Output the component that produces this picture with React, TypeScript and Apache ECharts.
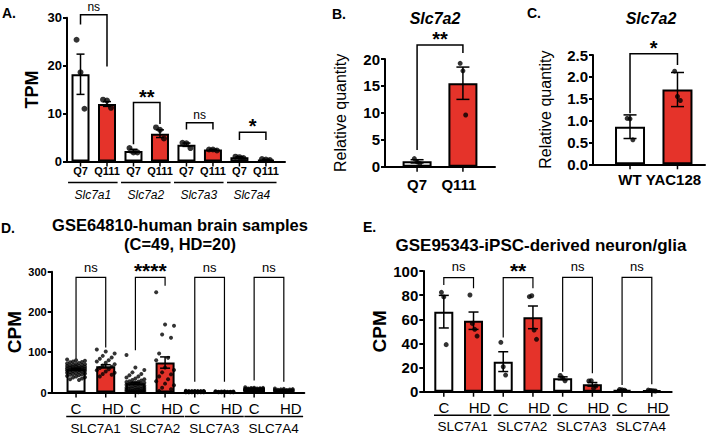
import React, { useEffect, useRef } from 'react';
import * as echarts from 'echarts';

const FONT = '"Liberation Sans", Arial, Helvetica, sans-serif';
const RED = '#e5332a';

// ---------- Panel A (TPM) ----------
const aLabels = ['Q7', 'Q111', 'Q7', 'Q111', 'Q7', 'Q111', 'Q7', 'Q111'];
const aGenes = ['Slc7a1', 'Slc7a2', 'Slc7a3', 'Slc7a4'];
const aMeans = [18.2, 12.0, 2.2, 5.8, 3.5, 2.5, 0.9, 0.4];
const aSems = [4.2, 0.5, 0.35, 0.8, 0.35, 0.06, 0.1, 0.06];
const aPoints = [
  [25.4, 18.6, 11.0],
  [12.9, 12.7, 11.2],
  [2.8, 1.9, 1.9],
  [7.1, 6.6, 4.8],
  [3.9, 3.8, 2.8],
  [2.5, 2.5, 2.3],
  [1.0, 0.9, 0.7],
  [0.5, 0.4, 0.3],
];
// [left bar, right bar, top, left leg end, right leg end]
const aBrackets = [
  [0, 1, 30.6, 28.6, 19.8],
  [2, 3, 12.3, 3.6, 7.8],
  [4, 5, 8.1, 6.7, 6.7],
  [6, 7, 6.1, 4.5, 4.5],
];
const aSig = ['ns', '**', 'ns', '*'];

// ---------- Panel B (Slc7a2, Q7 vs Q111) ----------
const bLabels = ['Q7', 'Q111'];
const bMeans = [1.0, 15.5];
const bSems = [0.3, 3.0];
const bPoints = [
  [1.5, 0.9, 0.6],
  [19.2, 17.8, 9.6],
];
const bBrackets = [[0, 1, 22.6, 3.1, 21.1]];
const bSig = ['**'];

// ---------- Panel C (Slc7a2, WT vs YAC128) ----------
const cLabels = ['WT', 'YAC128'];
const cMeans = [0.86, 1.71];
const cSems = [0.27, 0.39];
const cPoints = [
  [1.05, 1.04, 0.56],
  [2.13, 1.55, 1.46],
];
const cBrackets = [[0, 1, 2.53, 1.17, 2.27]];
const cSig = ['*'];

// ---------- Panel D (GSE64810, CPM) ----------
const dLabels = ['C', 'HD', 'C', 'HD', 'C', 'HD', 'C', 'HD'];
const dGenes = ['SLC7A1', 'SLC7A2', 'SLC7A3', 'SLC7A4'];
const dMeans = [58, 65, 22.7, 74.4, 2.0, 1.5, 7.0, 5.0];
const dSems = [1.8, 4.0, 2.6, 14, 0.2, 0.2, 0.4, 0.5];
const dC1 = [82, 80, 79, 77, 76, 75, 73, 72, 71, 70, 69, 68, 67, 66, 66, 65, 64, 63, 62, 62, 61, 60, 60, 59, 58, 58, 57, 56, 55, 55, 54, 53, 52, 51, 50, 49, 48, 47, 46, 45, 44, 43, 41, 40, 38, 37, 35, 33, 31];
const dHD1 = [107, 102, 97, 91, 87, 84, 80, 77, 74, 70, 67, 64, 61, 58, 55, 52, 49, 46, 44, 40];
const dC2 = [93, 62, 56, 50, 46, 43, 40, 37, 35, 33, 31, 30, 28, 27, 26, 25, 24, 23, 22, 21, 20, 19, 18, 17, 16, 15, 14, 13, 12, 12, 11, 10, 9, 9, 8, 7, 7, 6, 5, 5, 4, 4, 3, 3, 2, 2, 1, 1, 0.5];
const dHD2 = [249, 169, 166, 144, 136, 97, 86, 80, 62, 56, 50, 45, 40, 33, 28, 22, 18, 12, 8, 4];
const dC3 = [4.2, 3.8, 3.5, 3.3, 3.1, 3.0, 2.9, 2.8, 2.7, 2.6, 2.5, 2.5, 2.4, 2.3, 2.3, 2.2, 2.1, 2.1, 2.0, 2.0, 1.9, 1.9, 1.8, 1.8, 1.7, 1.7, 1.6, 1.6, 1.5, 1.5, 1.4, 1.4, 1.3, 1.3, 1.2, 1.2, 1.1, 1.1, 1.0, 1.0, 0.9, 0.9, 0.8, 0.8, 0.7, 0.7, 0.6, 0.5, 0.4];
const dHD3 = [3.2, 2.8, 2.5, 2.3, 2.1, 2.0, 1.8, 1.7, 1.6, 1.5, 1.4, 1.3, 1.2, 1.1, 1.0, 0.9, 0.8, 0.7, 0.6, 0.5];
const dC4 = [13, 12, 11.5, 11, 10.5, 10, 9.8, 9.5, 9.2, 9, 8.8, 8.5, 8.3, 8.1, 8, 7.8, 7.6, 7.5, 7.3, 7.2, 7, 6.9, 6.8, 6.6, 6.5, 6.3, 6.2, 6, 5.9, 5.8, 5.6, 5.5, 5.3, 5.2, 5, 4.9, 4.7, 4.6, 4.5, 4.3, 4.2, 4, 3.9, 3.7, 3.5, 3.3, 3.1, 2.9, 2.6];
const dHD4 = [10, 9, 8.4, 7.8, 7.2, 6.8, 6.4, 6, 5.7, 5.4, 5.1, 4.8, 4.5, 4.2, 3.9, 3.6, 3.3, 3, 2.6, 2.2];
const dBrackets = [
  [0, 1, 286, 84, 112],
  [2, 3, 286, 105, 265],
  [4, 5, 286, 27, 27],
  [6, 7, 286, 30, 27],
];
const dSig = ['ns', '****', 'ns', 'ns'];

// ---------- Panel E (GSE95343, CPM) ----------
const eLabels = ['C', 'HD', 'C', 'HD', 'C', 'HD', 'C', 'HD'];
const eGenes = ['SLC7A1', 'SLC7A2', 'SLC7A3', 'SLC7A4'];
const eMeans = [66.3, 58.8, 24.9, 61.6, 11.1, 6.1, 1.5, 1.0];
const eSems = [13.5, 7.2, 8.2, 9.4, 1.2, 1.5, 0.2, 0.2];
const ePoints = [
  [82.3, 78.5, 39.0],
  [80.1, 56.6, 51.7, 46.1],
  [40.9, 20.7, 13.8],
  [78.7, 79.5, 51.1, 43.4],
  [13.5, 11.5, 9.0],
  [8.9, 9.1, 2.8, 4.7],
  [1.9, 1.5, 1.2],
  [1.3, 1.0, 0.8, 0.6],
];
const eBrackets = [
  [0, 1, 94.5, 88.4, 85.7],
  [2, 3, 94.5, 45, 85.7],
  [4, 5, 94.8, 16.6, 15.2],
  [6, 7, 94.8, 5.5, 6.1],
];
const eSig = ['ns', '**', 'ns', 'ns'];

type Panel = {
  grid: number[];
  xMin: number; xMax: number; yMax: number; yInterval: number; yDec: number;
  yTickFont: number; yName: string; yNameGap: number; yNameSize: number; yNameWeight: string;
  labels: string[]; labelFont: number; labelWeight: string; labelDy: number; label2Dx: number;
  groups?: string[]; groupLineDy?: number; groupLabelDy?: number; groupFont?: number; groupItalic?: boolean;
  groupL?: number; groupR?: number;
  means: number[]; sems: number[]; points: number[][];
  brackets: number[][]; sig: string[];
  barWidth: number; capWidth: number; pointSize: number; spread: number; swarm?: boolean;
  nsFont: number; starFont: number; nsDy: number; starDy: number; bracketWidth: number;
};

const txt = (x: number, y: number, text: string, size: number, weight = 'normal', italic = false, align = 'center') => ({
  type: 'text', x, y, silent: true,
  style: { text, fill: '#000', fontSize: size, fontWeight: weight, fontStyle: italic ? 'italic' : 'normal', fontFamily: FONT, align, verticalAlign: 'middle' },
});

function addPanel(p: Panel, k: number, opt: any) {
  opt.grid.push({ left: p.grid[0], top: p.grid[1], width: p.grid[2], height: p.grid[3], containLabel: false, outerBoundsMode: 'none' });
  opt.xAxis.push({
    gridIndex: k, type: 'value', min: p.xMin, max: p.xMax,
    axisLine: { show: true, onZero: false, lineStyle: { color: '#000', width: 2 } },
    axisTick: { show: false }, axisLabel: { show: false }, splitLine: { show: false },
  });
  opt.yAxis.push({
    gridIndex: k, type: 'value', min: 0, max: p.yMax, interval: p.yInterval,
    name: p.yName, nameLocation: 'middle', nameGap: p.yNameGap,
    nameTextStyle: { color: '#000', fontSize: p.yNameSize, fontWeight: p.yNameWeight, fontFamily: FONT },
    axisLine: { show: true, onZero: false, lineStyle: { color: '#000', width: 2 } },
    axisTick: { show: true, length: 4, lineStyle: { color: '#000', width: 2 } },
    axisLabel: { color: '#000', fontSize: p.yTickFont, fontWeight: 'bold', fontFamily: FONT, margin: 5,
      formatter: (v: number) => v.toFixed(p.yDec) },
    splitLine: { show: false },
  });
  const ax = { xAxisIndex: k, yAxisIndex: k };
  // bars
  opt.series.push({
    type: 'bar', ...ax, barWidth: p.barWidth, silent: true, z: 2,
    itemStyle: { borderColor: '#000', borderWidth: 2 },
    data: p.means.map((m, i) => ({ value: [i, m], itemStyle: { color: i % 2 ? RED : '#ffffff', borderColor: '#000', borderWidth: 2 } })),
  });
  // error bars
  const cap = p.capWidth / 2;
  opt.series.push({
    type: 'custom', ...ax, z: 3, silent: true, clip: false,
    data: p.means.map((m, i) => [i, m - p.sems[i], m + p.sems[i]]),
    renderItem: (params: any, api: any) => {
      const a = api.coord([api.value(0), api.value(1)]);
      const b = api.coord([api.value(0), api.value(2)]);
      const st = { stroke: '#000', lineWidth: 1.5 };
      return { type: 'group', children: [
        { type: 'line', shape: { x1: a[0], y1: a[1], x2: b[0], y2: b[1] }, style: st },
        { type: 'line', shape: { x1: a[0] - cap, y1: a[1], x2: a[0] + cap, y2: a[1] }, style: st },
        { type: 'line', shape: { x1: b[0] - cap, y1: b[1], x2: b[0] + cap, y2: b[1] }, style: st },
      ] };
    },
  });
  // points
  const pts: number[][] = [];
  p.points.forEach((arr, i) => {
    const n = arr.length;
    arr.forEach((v, j) => {
      const off = p.swarm ? ((((j * 3) % 7) - 3) / 3) * p.spread : (j - (n - 1) / 2) * p.spread;
      pts.push([i + off, v]);
    });
  });
  opt.series.push({
    type: 'scatter', ...ax, z: 4, silent: true, symbol: 'circle', symbolSize: p.pointSize,
    itemStyle: { color: '#000' }, data: pts,
  });
  // significance brackets
  opt.series.push({
    type: 'custom', ...ax, z: 5, silent: true, clip: false,
    data: p.brackets.map((b) => [b[0], b[2], b[1], b[3], b[4]]),
    renderItem: (params: any, api: any) => {
      const x1 = api.value(0), top = api.value(1), x2 = api.value(2);
      const tl = api.coord([x1, top]);
      const tr = api.coord([x2, top]);
      const bl = api.coord([x1, api.value(3)]);
      const br = api.coord([x2, api.value(4)]);
      const sig = p.sig[params.dataIndex];
      const isStar = sig.indexOf('*') >= 0;
      return { type: 'group', children: [
        { type: 'polyline', shape: { points: [bl, tl, tr, br] }, style: { stroke: '#000', lineWidth: p.bracketWidth, fill: 'none' } },
        txt((tl[0] + tr[0]) / 2, tl[1] + (isStar ? p.starDy : p.nsDy), sig, isStar ? p.starFont : p.nsFont, isStar ? 'bold' : 'normal'),
      ] };
    },
  });
  // category ticks + labels
  opt.series.push({
    type: 'custom', ...ax, z: 5, silent: true, clip: false,
    data: p.labels.map((_, i) => [i, 0]),
    renderItem: (params: any, api: any) => {
      const i = params.dataIndex;
      const c = api.coord([api.value(0), 0]);
      const dx = i % 2 ? p.label2Dx : 0;
      return { type: 'group', children: [
        { type: 'line', shape: { x1: c[0], y1: c[1], x2: c[0], y2: c[1] + 5 }, style: { stroke: '#000', lineWidth: 1.5 } },
        txt(c[0] + dx, c[1] + p.labelDy, p.labels[i], p.labelFont, p.labelWeight),
      ] };
    },
  });
  // group underlines + names
  if (p.groups) {
    const groups = p.groups;
    opt.series.push({
      type: 'custom', ...ax, z: 5, silent: true, clip: false,
      data: groups.map((_, g) => [2 * g, 0, 2 * g + 1]),
      renderItem: (params: any, api: any) => {
        const l = api.coord([api.value(0) - (p.groupL as number), 0]);
        const r = api.coord([api.value(2) + (p.groupR as number), 0]);
        const y = l[1] + (p.groupLineDy as number);
        return { type: 'group', children: [
          { type: 'line', shape: { x1: l[0], y1: y, x2: r[0], y2: y }, style: { stroke: '#000', lineWidth: 1.5 } },
          txt((l[0] + r[0]) / 2, l[1] + (p.groupLabelDy as number), groups[params.dataIndex], p.groupFont as number, 'normal', !!p.groupItalic),
        ] };
      },
    });
  }
}

const panelA: Panel = {
  grid: [67, 17.7, 218, 143.8], xMin: -0.51, xMax: 7.72, yMax: 30, yInterval: 10, yDec: 0,
  yTickFont: 13, yName: 'TPM', yNameGap: 26, yNameSize: 18, yNameWeight: 'bold',
  labels: aLabels, labelFont: 11, labelWeight: 'bold', labelDy: 9, label2Dx: 0,
  groups: aGenes, groupLineDy: 21, groupLabelDy: 33.5, groupFont: 12, groupItalic: true, groupL: 0.47, groupR: 0.4,
  means: aMeans, sems: aSems, points: aPoints, brackets: aBrackets, sig: aSig,
  barWidth: 18, capWidth: 8, pointSize: 6, spread: 0.15,
  nsFont: 12, starFont: 20, nsDy: -8, starDy: -6, bracketWidth: 1.5,
};
const panelB: Panel = {
  grid: [385, 59, 110, 107.7], xMin: -0.7, xMax: 1.7, yMax: 20, yInterval: 5, yDec: 0,
  yTickFont: 15, yName: 'Relative quantity', yNameGap: 37, yNameSize: 16, yNameWeight: 'normal',
  labels: bLabels, labelFont: 15, labelWeight: 'bold', labelDy: 18, label2Dx: -4,
  means: bMeans, sems: bSems, points: bPoints, brackets: bBrackets, sig: bSig,
  barWidth: 29, capWidth: 13, pointSize: 5, spread: 0.06,
  nsFont: 12, starFont: 20, nsDy: -8, starDy: -6, bracketWidth: 1.5,
};
const panelC: Panel = {
  grid: [593, 55, 112, 109.3], xMin: -0.78, xMax: 1.58, yMax: 2.5, yInterval: 0.5, yDec: 1,
  yTickFont: 15, yName: 'Relative quantity', yNameGap: 40, yNameSize: 16, yNameWeight: 'normal',
  labels: cLabels, labelFont: 15, labelWeight: 'bold', labelDy: 15, label2Dx: -4,
  means: cMeans, sems: cSems, points: cPoints, brackets: cBrackets, sig: cSig,
  barWidth: 30, capWidth: 13, pointSize: 5, spread: 0.06,
  nsFont: 12, starFont: 20, nsDy: -8, starDy: -6, bracketWidth: 1.5,
};
const panelD: Panel = {
  grid: [51.7, 271.7, 252.6, 120.8], xMin: -0.82, xMax: 7.69, yMax: 300, yInterval: 100, yDec: 0,
  yTickFont: 11, yName: 'CPM', yNameGap: 22, yNameSize: 19, yNameWeight: 'bold',
  labels: dLabels, labelFont: 15, labelWeight: 'normal', labelDy: 15.5, label2Dx: 7,
  groups: dGenes, groupLineDy: 24, groupLabelDy: 36, groupFont: 13.5, groupItalic: false, groupL: 0.33, groupR: 0.65,
  means: dMeans, sems: dSems, points: [dC1, dHD1, dC2, dHD2, dC3, dHD3, dC4, dHD4], brackets: dBrackets, sig: dSig,
  barWidth: 19, capWidth: 10, pointSize: 4, spread: 0.3, swarm: true,
  nsFont: 13, starFont: 21, nsDy: -10, starDy: -7, bracketWidth: 1.2,
};
const panelE: Panel = {
  grid: [423.3, 271, 248.4, 120.7], xMin: -0.69, xMax: 7.67, yMax: 100, yInterval: 20, yDec: 0,
  yTickFont: 15, yName: 'CPM', yNameGap: 26, yNameSize: 19, yNameWeight: 'bold',
  labels: eLabels, labelFont: 15, labelWeight: 'normal', labelDy: 16, label2Dx: 6,
  groups: eGenes, groupLineDy: 23.5, groupLabelDy: 35, groupFont: 13.5, groupItalic: false, groupL: 0.33, groupR: 0.6,
  means: eMeans, sems: eSems, points: ePoints, brackets: eBrackets, sig: eSig,
  barWidth: 19, capWidth: 10, pointSize: 5, spread: 0.08,
  nsFont: 13, starFont: 21, nsDy: -11, starDy: -7, bracketWidth: 1.2,
};

export default function App() {
  const ref = useRef<HTMLDivElement>(null);
  useEffect(() => {
    if (!ref.current) return;
    const chart = echarts.init(ref.current, undefined, { renderer: 'svg' });
    const opt: any = {
      animation: false,
      backgroundColor: '#ffffff',
      textStyle: { fontFamily: FONT },
      grid: [], xAxis: [], yAxis: [], series: [],
      graphic: { elements: [
        txt(2, 13, 'A.', 14, 'bold', false, 'left'),
        txt(332, 14, 'B.', 14, 'bold', false, 'left'),
        txt(527, 13, 'C.', 14, 'bold', false, 'left'),
        txt(1, 228, 'D.', 14, 'bold', false, 'left'),
        txt(363, 227, 'E.', 14, 'bold', false, 'left'),
        txt(435, 18, 'Slc7a2', 16, 'bold', true),
        txt(651, 18, 'Slc7a2', 16, 'bold', true),
        txt(180, 225, 'GSE64810-human brain samples', 16.5, 'bold'),
        txt(180, 243.5, '(C=49, HD=20)', 16.5, 'bold'),
        txt(541, 245, 'GSE95343-iPSC-derived neuron/glia', 17, 'bold'),
      ] },
    };
    [panelA, panelB, panelC, panelD, panelE].forEach((p, k) => addPanel(p, k, opt));
    chart.setOption(opt);
    return () => chart.dispose();
  }, []);
  return <div ref={ref} style={{ position: 'fixed', left: 0, top: 0, width: 708, height: 435 }} />;
}
